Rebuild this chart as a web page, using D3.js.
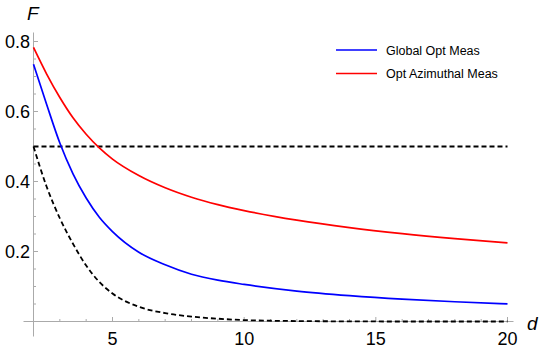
<!DOCTYPE html>
<html>
<head>
<meta charset="utf-8">
<script src="https://cdn.jsdelivr.net/npm/d3@7"></script>
<style>
  body { margin: 0; background: #fff; }
  svg { display: block; font-family: "Liberation Sans", Arial, sans-serif; }
</style>
</head>
<body>
<div id="chart"></div>
<script>
// dimension d on the x axis
const dValues = [2, 2.5, 3, 3.5, 4, 4.5, 5, 6, 7, 8, 9, 10, 12, 14, 16, 18, 20];
const globalOpt = [0.735, 0.62, 0.51, 0.422, 0.353, 0.298, 0.257, 0.198, 0.162, 0.135, 0.118, 0.106, 0.087, 0.074, 0.064, 0.0565, 0.0505];
const optAzimuthal = [0.783, 0.707, 0.64, 0.582, 0.535, 0.496, 0.464, 0.417, 0.382, 0.355, 0.334, 0.317, 0.2894, 0.268, 0.2508, 0.2366, 0.2246];
const lowerBound = [0.5, 0.385, 0.295, 0.222, 0.16, 0.113, 0.08, 0.042, 0.024, 0.014, 0.008, 0.004, 0.0013, 0.0004, 0, 0, 0];
const upperBound = [0.5, 0.5, 0.5, 0.5, 0.5, 0.5, 0.5, 0.5, 0.5, 0.5, 0.5, 0.5, 0.5, 0.5, 0.5, 0.5, 0.5];

const xTicks = [5, 10, 15, 20];
const yTicks = [0.2, 0.4, 0.6, 0.8];
const legendLabels = ["Global Opt Meas", "Opt Azimuthal Meas"];

const width = 540, height = 352;
const axisColor = "#aaaaaa";

const x = d3.scaleLinear().domain([2, 20]).range([33.5, 507.5]);
const y = d3.scaleLinear().domain([0, 0.8]).range([321.5, 41.5]);

const svg = d3.select("#chart").append("svg")
  .attr("width", width)
  .attr("height", height);

// axes lines (Mathematica style, crossing at d=2, F=0)
svg.append("line")
  .attr("x1", x(2) - 10).attr("x2", x(20) + 6)
  .attr("y1", y(0)).attr("y2", y(0))
  .attr("stroke", axisColor).attr("stroke-width", 1);
svg.append("line")
  .attr("x1", x(2)).attr("x2", x(2))
  .attr("y1", y(0) + 15).attr("y2", y(0.8) - 9)
  .attr("stroke", axisColor).attr("stroke-width", 1);

// x ticks: minor each unit, major at xTicks
const xMinor = d3.range(3, 21).filter(v => !xTicks.includes(v));
svg.append("g").selectAll("line")
  .data(xMinor)
  .enter().append("line")
  .attr("x1", d => x(d)).attr("x2", d => x(d))
  .attr("y1", y(0)).attr("y2", y(0) - 2.5)
  .attr("stroke", axisColor);
svg.append("g").selectAll("line")
  .data(xTicks)
  .enter().append("line")
  .attr("x1", d => x(d)).attr("x2", d => x(d))
  .attr("y1", y(0)).attr("y2", y(0) - 4.5)
  .attr("stroke", axisColor);
svg.append("g").selectAll("text")
  .data(xTicks)
  .enter().append("text")
  .attr("x", d => x(d))
  .attr("y", 345)
  .attr("text-anchor", "middle")
  .attr("font-size", 18)
  .text(d => d);

// y ticks: minor every 0.05
const yMinor = d3.range(1, 17).map(i => i * 0.05).filter(v => Math.abs(v / 0.2 - Math.round(v / 0.2)) > 1e-6);
svg.append("g").selectAll("line")
  .data(yMinor)
  .enter().append("line")
  .attr("x1", x(2)).attr("x2", x(2) + 2.5)
  .attr("y1", d => y(d)).attr("y2", d => y(d))
  .attr("stroke", axisColor);
svg.append("g").selectAll("line")
  .data(yTicks)
  .enter().append("line")
  .attr("x1", x(2)).attr("x2", x(2) + 4.5)
  .attr("y1", d => y(d)).attr("y2", d => y(d))
  .attr("stroke", axisColor);
svg.append("g").selectAll("text")
  .data(yTicks)
  .enter().append("text")
  .attr("x", 30)
  .attr("y", d => y(d) + 6.5)
  .attr("text-anchor", "end")
  .attr("font-size", 18)
  .text(d => d.toFixed(1));

// axis labels
svg.append("text").attr("x", 27).attr("y", 20)
  .attr("font-size", 19).attr("font-style", "italic").text("F");
svg.append("text").attr("x", 527).attr("y", 330)
  .attr("font-size", 19).attr("font-style", "italic").text("d");

// curves
const line = d3.line()
  .x(d => x(d[0]))
  .y(d => y(d[1]))
  .curve(d3.curveMonotoneX);

function drawSeries(values, color, dash) {
  svg.append("path")
    .datum(dValues.map((d, i) => [d, values[i]]))
    .attr("d", line)
    .attr("fill", "none")
    .attr("stroke", color)
    .attr("stroke-width", dash ? 1.8 : 1.7)
    .attr("stroke-dasharray", dash ? "5,3" : null);
}

drawSeries(upperBound, "#000", true);
drawSeries(lowerBound, "#000", true);
drawSeries(globalOpt, "#0000ff", false);
drawSeries(optAzimuthal, "#ff0000", false);

// legend
const legendColors = ["#0000ff", "#ff0000"];
const legend = svg.append("g").selectAll("g")
  .data(legendLabels)
  .enter().append("g")
  .attr("transform", (d, i) => "translate(336," + (50 + i * 23.5) + ")");
legend.append("line")
  .attr("x1", 0).attr("x2", 41)
  .attr("stroke", (d, i) => legendColors[i])
  .attr("stroke-width", 1.7);
legend.append("text")
  .attr("x", 50).attr("y", 4.5)
  .attr("font-size", 12.5)
  .text(d => d);
</script>
</body>
</html>
